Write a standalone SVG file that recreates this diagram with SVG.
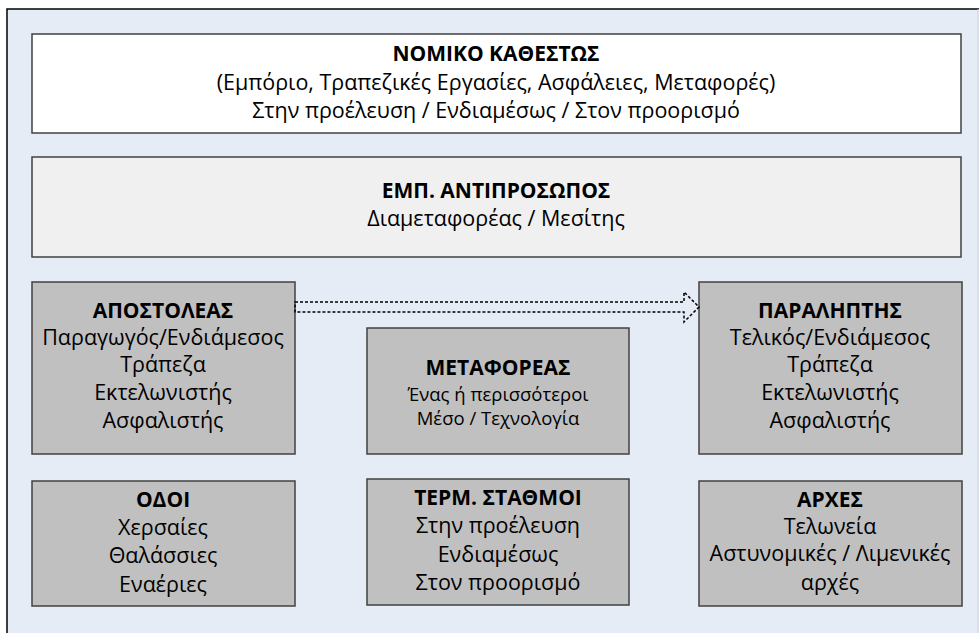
<svg xmlns="http://www.w3.org/2000/svg" width="979" height="633" viewBox="0 0 979 633">
<style>
.box{stroke:#404040;stroke-width:1.5}
.w{fill:#ffffff}
.l{fill:#f0f0f0}
.g{fill:#c0c0c0}
text{font-family:"Open Sans","Noto Sans","DejaVu Sans",sans-serif;fill:#000;text-anchor:middle;font-size:21.5px}
.b{font-weight:bold;font-size:21px}
.s{font-size:18.5px}
</style>
<rect x="7" y="9" width="972" height="624" fill="#e6ecf6"/>
<path d="M7,633 V9 H979" fill="none" stroke="#000" stroke-width="1.5"/>
<path d="M978,9 V633" fill="none" stroke="#d0d4dc" stroke-width="1"/>
<g id="nomiko">
<rect class="box w" x="32" y="34" width="929" height="99"/>
<text class="b" x="496" y="61">ΝΟΜΙΚΟ ΚΑΘΕΣΤΩΣ</text>
<text x="496" y="90">(Εμπόριο, Τραπεζικές Εργασίες, Ασφάλειες, Μεταφορές)</text>
<text x="496" y="118">Στην προέλευση / Ενδιαμέσως / Στον προορισμό</text>
</g>
<g id="antiprosopos">
<rect class="box l" x="32" y="157" width="929" height="100"/>
<text class="b" x="496" y="198">ΕΜΠ. ΑΝΤΙΠΡΟΣΩΠΟΣ</text>
<text x="496" y="226">Διαμεταφορέας / Μεσίτης</text>
</g>
<g id="apostoleas">
<rect class="box g" x="32" y="282" width="263" height="172"/>
<text class="b" x="163" y="318">ΑΠΟΣΤΟΛΕΑΣ</text>
<text x="163" y="345">Παραγωγός/Ενδιάμεσος</text>
<text x="163" y="372">Τράπεζα</text>
<text x="163" y="400">Εκτελωνιστής</text>
<text x="163" y="428">Ασφαλιστής</text>
</g>
<g id="metaforeas">
<rect class="box g" x="367" y="328" width="262" height="126"/>
<text class="b" x="498" y="375">ΜΕΤΑΦΟΡΕΑΣ</text>
<text class="s" x="498" y="401">Ένας ή περισσότεροι</text>
<text class="s" x="498" y="425">Μέσο / Τεχνολογία</text>
</g>
<g id="paraliptis">
<rect class="box g" x="699" y="282" width="263" height="172"/>
<text class="b" x="830" y="318">ΠΑΡΑΛΗΠΤΗΣ</text>
<text x="830" y="345">Τελικός/Ενδιάμεσος</text>
<text x="830" y="372">Τράπεζα</text>
<text x="830" y="400">Εκτελωνιστής</text>
<text x="830" y="428">Ασφαλιστής</text>
</g>
<g id="odoi">
<rect class="box g" x="32" y="481" width="263" height="125"/>
<text class="b" x="163" y="507">ΟΔΟΙ</text>
<text x="163" y="535">Χερσαίες</text>
<text x="163" y="563">Θαλάσσιες</text>
<text x="163" y="592">Εναέριες</text>
</g>
<g id="stathmoi">
<rect class="box g" x="367" y="479" width="262" height="126"/>
<text class="b" x="498" y="505">ΤΕΡΜ. ΣΤΑΘΜΟΙ</text>
<text x="498" y="533">Στην προέλευση</text>
<text x="498" y="562">Ενδιαμέσως</text>
<text x="498" y="590">Στον προορισμό</text>
</g>
<g id="arxes">
<rect class="box g" x="699" y="481" width="263" height="125"/>
<text class="b" x="830" y="507">ΑΡΧΕΣ</text>
<text x="830" y="534">Τελωνεία</text>
<text x="830" y="561">Αστυνομικές / Λιμενικές</text>
<text x="830" y="590">αρχές</text>
</g>
<g id="connectors">
<path d="M295,302 H684 V292 L699,307 L684,322 V312 H295 Z" fill="none" stroke="#000" stroke-width="1.5" stroke-dasharray="3,2"/>
</g>
</svg>
